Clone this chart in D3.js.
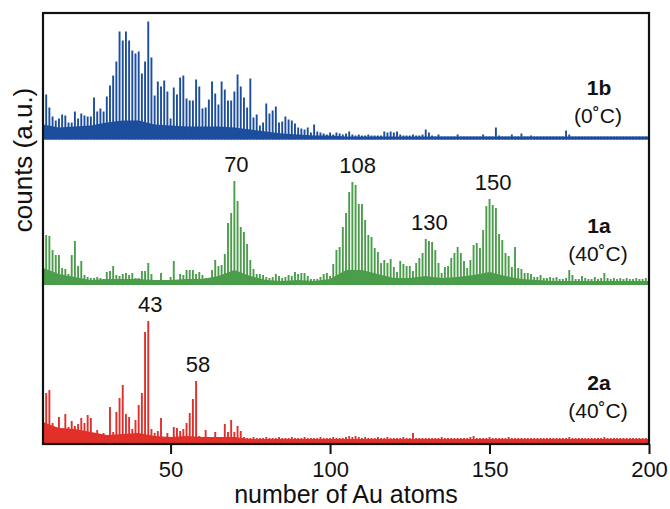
<!DOCTYPE html>
<html>
<head>
<meta charset="utf-8">
<script src="https://cdn.jsdelivr.net/npm/d3@7/dist/d3.min.js"></script>
<style>
  body { margin: 0; background: #fff; }
  text { font-family: "Liberation Sans", Arial, Helvetica, sans-serif; fill: #111; }
</style>
</head>
<body>
<div class="C"></div>
<script>
// number of Au atoms, one stick per cluster size
var masses = d3.range(10, 201);
var floorMasses = d3.range(10, 201, 5);
var xTicks = [50, 100, 150, 200];

// 1b (0 C), blue trace, counts a.u.
var countsBlue = [
    20,44,31,22,18,20,24,23,16,16,
    27,20,25,23,22,22,41,27,30,27,
    42,53,63,77,107,98,107,98,88,85,
    87,65,77,117,81,43,57,52,58,47,
    20,51,44,61,63,40,38,38,59,52,
    30,31,39,57,45,34,57,49,38,38,
    47,64,52,41,31,60,21,24,13,16,
    35,25,28,32,16,17,22,19,18,15,
    11,10,9,11,6,14,7,6,5,4,
    6,4,6,5,4,5,7,4,3,4,
    3,3,4,3,3,3,3,7,6,7,
    6,7,4,3,3,3,4,3,3,4,
    9,6,3,2,4,2,2,2,2,2,
    4,2,2,2,2,2,2,2,4,2,
    2,2,11,3,2,2,2,4,2,2,
    5,2,2,3,2,2,2,2,2,2,
    2,2,2,2,8,4,2,2,2,2,
    2,2,2,2,2,2,2,2,2,2,
    2,2,2,2,2,2,2,2,2,2,
    2];
var floorBlue = [14,11,12,13,16,18,18,14,13,12,12,12,11,9,7,5,4,3,3,2,
    2,2,2,2,2,2,2,2,2,2,2,2,2,2,2,2,2,2,2];

// 1a (40 C), green trace
var countsGreen = [
    25,49,48,34,29,29,16,15,10,29,
    43,18,23,9,7,6,6,7,6,5,
    12,13,18,9,8,10,11,9,11,6,
    6,13,13,21,10,4,3,11,4,3,
    7,23,3,10,9,14,14,14,10,12,
    9,6,5,14,24,18,19,30,61,71,
    103,83,57,52,40,24,15,10,10,9,
    7,6,7,10,8,6,7,9,8,12,
    10,11,11,8,5,5,5,7,10,11,
    8,20,34,37,57,71,92,102,99,80,
    80,64,49,47,36,32,21,24,21,25,
    17,12,23,20,18,18,13,21,26,31,
    45,43,42,34,21,11,17,18,26,31,
    37,31,23,16,24,39,41,36,54,78,
    85,79,76,50,44,31,28,17,37,16,
    15,11,11,10,7,7,9,6,6,7,
    6,7,5,5,6,14,9,5,5,8,
    6,5,5,7,5,6,11,6,5,6,
    5,6,5,6,5,5,6,5,5,6,
    5];
var floorGreen = [16,10,7,4,5,5,5,4,4,5,5,8,14,8,4,3,4,3,5,14,
    14,10,6,6,8,6,7,9,12,8,5,4,3,3,3,3,3,3,3];

// 2a (40 C), red trace
var countsRed = [
    49,49,52,19,15,25,14,28,15,21,
    16,18,24,19,27,24,8,12,8,9,
    6,35,10,30,44,57,28,25,13,22,
    37,49,110,121,13,9,11,24,5,9,
    5,15,14,11,13,19,29,43,61,6,
    5,12,5,5,10,5,4,18,10,22,
    10,16,11,5,4,4,5,4,4,4,
    5,4,4,4,5,4,4,4,5,4,
    4,4,5,4,4,4,4,5,4,4,
    4,5,4,4,4,5,6,5,6,5,
    4,5,4,4,4,5,4,4,5,4,
    4,4,4,5,4,4,9,4,4,4,
    4,4,4,4,4,5,4,4,4,4,
    4,4,4,4,5,6,4,4,4,4,
    5,4,4,4,4,4,5,4,4,4,
    4,4,4,4,4,4,4,4,4,4,
    4,4,4,4,4,5,4,4,4,4,
    4,4,4,4,4,4,5,4,4,4,
    4,4,4,4,4,4,4,4,4,4,
    4];
var floorRed = [20,14,13,10,7,8,9,6,5,6,5,5,5,3,3,3,3,3,3,3,
    3,3,3,3,3,3,3,3,3,3,3,3,3,3,3,3,3,3,3];

var sampleNames = ['1b', '1a', '2a'];
var sampleTemps = ['(0\u02DAC)', '(40\u02DAC)', '(40\u02DAC)'];
var peakLabels = [['70', 70, 1], ['108', 108, 1], ['130', 130.5, 1], ['150', 150.5, 1], ['43', 43, 2], ['58', 58, 2]];

var W = 670, H = 509;
var plotLeft = 43, plotRight = 649, plotTop = 13, plotBottom = 444;
var bases = [138.5, 284, 442];
var colors = ['#1c4e9d', '#4b9d4b', '#e1302a'];

var svg = d3.select('.C').append('svg').attr('width', W).attr('height', H);

var x = d3.scaleLinear().domain([10, 200]).range([plotLeft, plotRight]);

svg.append('defs').append('clipPath').attr('id', 'plotclip')
    .append('rect').attr('x', plotLeft).attr('y', plotTop)
    .attr('width', plotRight - plotLeft).attr('height', plotBottom - plotTop);

var panels = [
    {counts: countsBlue, floor: floorBlue},
    {counts: countsGreen, floor: floorGreen},
    {counts: countsRed, floor: floorRed}
];

var plot = svg.append('g').attr('clip-path', 'url(#plotclip)');

panels.forEach(function (p, i) {
    var y = d3.scaleLinear().domain([0, 120]).range([bases[i], bases[i] - 120]);
    p.y = y;
    var g = plot.append('g');
    // dense noise under the sticks
    g.append('path')
        .datum(d3.zip(floorMasses, p.floor))
        .attr('d', d3.area()
            .x(function (d) { return x(d[0]); })
            .y0(y(0) + 1)
            .y1(function (d) { return y(d[1]); }))
        .style('fill', colors[i]);
    g.selectAll('.stick')
        .data(d3.zip(masses, p.counts))
        .enter()
        .append('line')
        .attr('class', 'stick')
        .attr('x1', function (d) { return x(d[0]); })
        .attr('x2', function (d) { return x(d[0]); })
        .attr('y1', y(0) + 1)
        .attr('y2', function (d) { return y(d[1]); })
        .style('stroke', colors[i])
        .style('stroke-width', 1.9);
    g.append('line')
        .attr('x1', plotLeft).attr('x2', plotRight)
        .attr('y1', y(0)).attr('y2', y(0))
        .style('stroke', colors[i]).style('stroke-width', 1.6);

    svg.append('text').text(sampleNames[i])
        .attr('x', 599).attr('y', bases[i] - (i == 0 ? 43.5 : (i == 1 ? 51 : 52)))
        .attr('text-anchor', 'middle')
        .style('font-size', '21px').style('font-weight', 'bold');
    svg.append('text').text(sampleTemps[i])
        .attr('x', 598).attr('y', bases[i] - (i == 0 ? 16 : (i == 1 ? 23 : 24)))
        .attr('text-anchor', 'middle')
        .style('font-size', '21px');
});

// peak labels
peakLabels.forEach(function (l) {
    var p = panels[l[2]];
    var near = masses.map(function (m, k) { return Math.abs(m - l[1]) <= 1 ? p.counts[k] : 0; });
    svg.append('text').text(l[0])
        .attr('x', x(l[1]) + 2)
        .attr('y', p.y(d3.max(near)) - 9)
        .attr('text-anchor', 'middle')
        .style('font-size', '22px');
});

// frame
svg.append('rect')
    .attr('x', plotLeft).attr('y', plotTop)
    .attr('width', plotRight - plotLeft).attr('height', plotBottom - plotTop)
    .style('fill', 'none').style('stroke', '#111').style('stroke-width', 2.2);

var xAxis = svg.append('g')
    .attr('transform', 'translate(0,' + plotBottom + ')')
    .call(d3.axisBottom(x).tickValues(xTicks).tickSize(10).tickPadding(7).tickSizeOuter(0));
xAxis.select('.domain').remove();
xAxis.selectAll('line').style('stroke', '#111').style('stroke-width', 2);
xAxis.selectAll('text')
    .style('font-size', '22px')
    .style('font-family', '"Liberation Sans", Arial, sans-serif')
    .style('fill', '#111');

svg.append('text').text('number of Au atoms')
    .attr('x', (plotLeft + plotRight) / 2).attr('y', 503)
    .attr('text-anchor', 'middle')
    .style('font-size', '25px');

svg.append('text').text('counts (a.u.)')
    .attr('transform', 'translate(32,160) rotate(-90)')
    .attr('text-anchor', 'middle')
    .style('font-size', '26px');
</script>
</body>
</html>
